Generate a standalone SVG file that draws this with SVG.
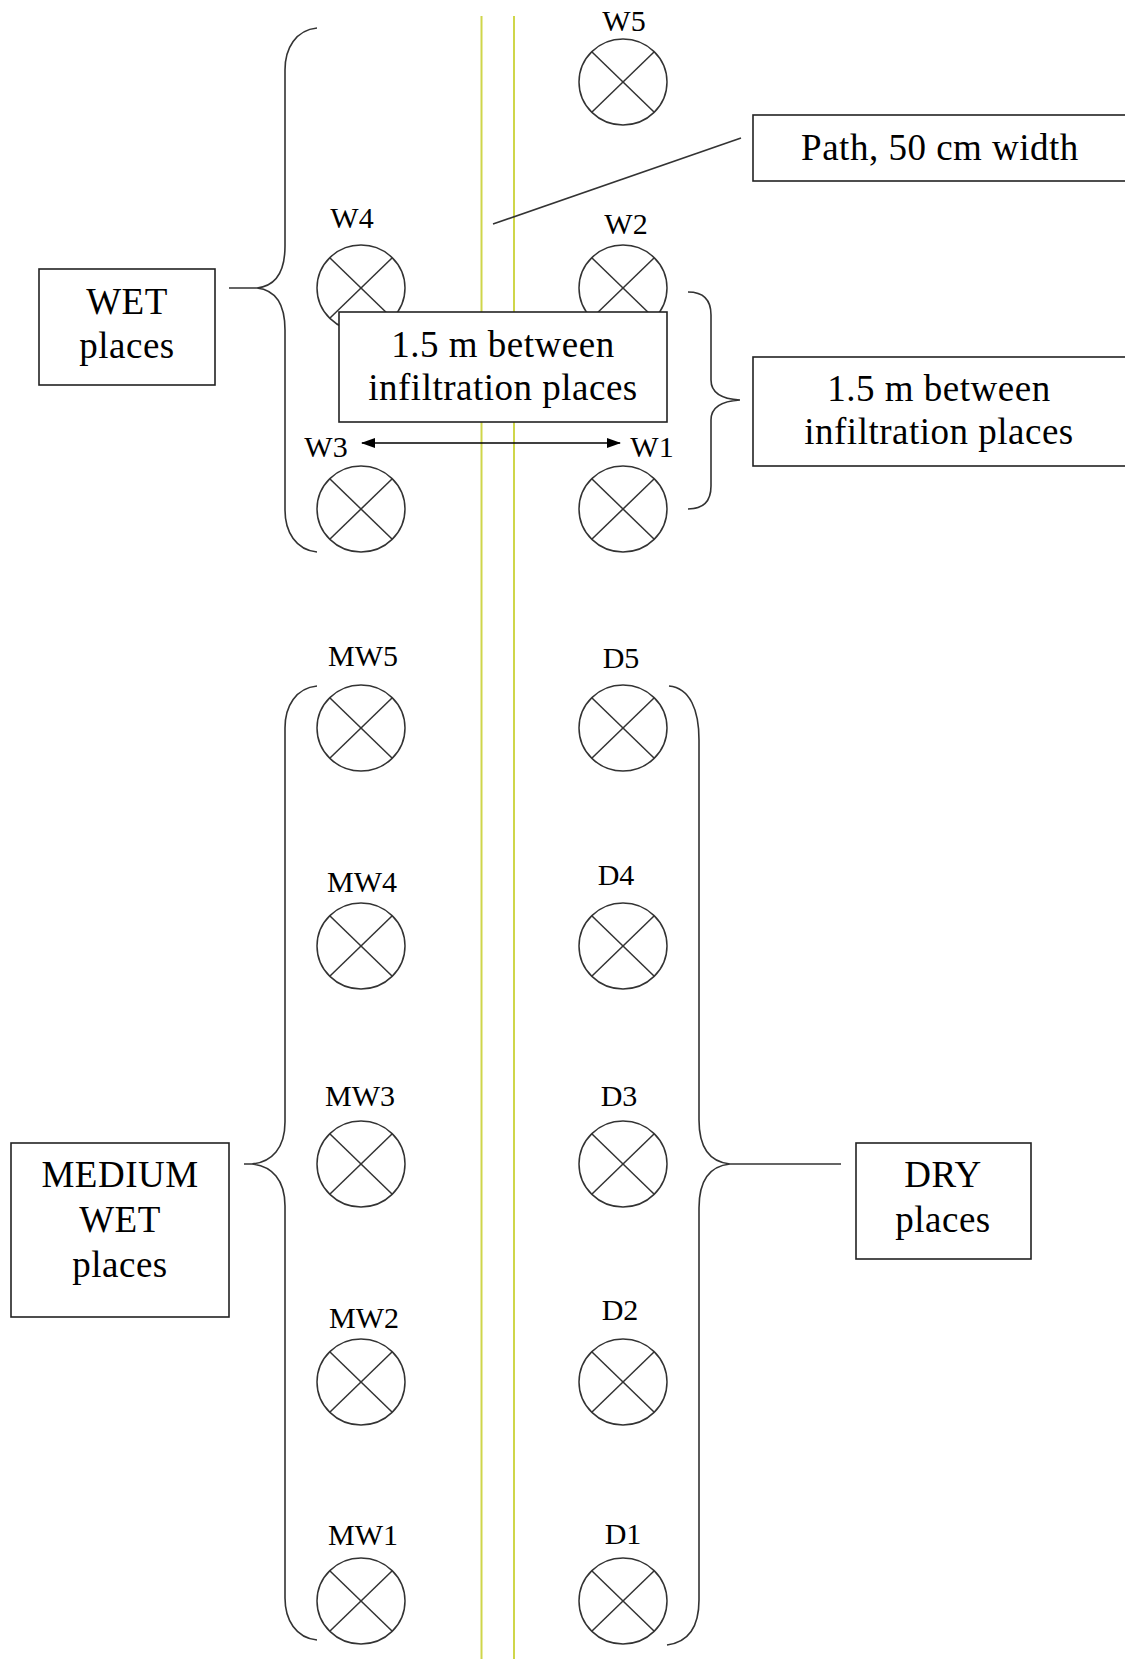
<svg xmlns="http://www.w3.org/2000/svg" width="1125" height="1659" viewBox="0 0 1125 1659">
<style>
  .bg { fill: #ffffff; }
  .path-line { stroke: #cfd64a; stroke-width: 2; fill: none; }
  .lbl { font-family: "Liberation Serif", "Times New Roman", serif; font-size: 30px; fill: #000; text-anchor: middle; }
  .box rect { fill: #ffffff; stroke: #222222; stroke-width: 1.6; }
  .box text { font-family: "Liberation Serif", "Times New Roman", serif; font-size: 37px; fill: #000; text-anchor: middle; letter-spacing: 0.5px; }
  .conn path, .conn line { fill: none; stroke: #333333; stroke-width: 1.6; }
  .conn .arrow { stroke: #000; stroke-width: 1.6; }
</style>
<defs>
  <marker id="ah" viewBox="0 0 14 10" refX="13" refY="5" markerWidth="14" markerHeight="10" markerUnits="userSpaceOnUse" orient="auto-start-reverse">
    <path d="M0,0 L14,5 L0,10 Z" fill="#000"/>
  </marker>
  <g id="xc" fill="none" stroke="#333333" stroke-width="1.5">
    <ellipse cx="0" cy="0" rx="44" ry="43"/>
    <line x1="-31" y1="-30" x2="31" y2="30"/>
    <line x1="-31" y1="30" x2="31" y2="-30"/>
  </g>
</defs>
<rect class="bg" x="0" y="0" width="1125" height="1659"/>

<g id="path-edges">
  <line class="path-line" x1="481.5" y1="16" x2="481.5" y2="1659"/>
  <line class="path-line" x1="514" y1="16" x2="514" y2="1659"/>
</g>

<g id="W5" class="site"><use href="#xc" x="623" y="82"/><text class="lbl" x="624" y="31">W5</text></g>
<g id="W4" class="site"><use href="#xc" x="361" y="288"/><text class="lbl" x="352" y="228">W4</text></g>
<g id="W2" class="site"><use href="#xc" x="623" y="288"/><text class="lbl" x="626" y="234">W2</text></g>
<g id="W3" class="site"><use href="#xc" x="361" y="509"/><text class="lbl" x="326" y="457">W3</text></g>
<g id="W1" class="site"><use href="#xc" x="623" y="509"/><text class="lbl" x="652" y="457">W1</text></g>

<g id="MW5" class="site"><use href="#xc" x="361" y="728"/><text class="lbl" x="363" y="666">MW5</text></g>
<g id="MW4" class="site"><use href="#xc" x="361" y="946"/><text class="lbl" x="362" y="892">MW4</text></g>
<g id="MW3" class="site"><use href="#xc" x="361" y="1164"/><text class="lbl" x="360" y="1106">MW3</text></g>
<g id="MW2" class="site"><use href="#xc" x="361" y="1382"/><text class="lbl" x="364" y="1328">MW2</text></g>
<g id="MW1" class="site"><use href="#xc" x="361" y="1601"/><text class="lbl" x="363" y="1545">MW1</text></g>

<g id="D5" class="site"><use href="#xc" x="623" y="728"/><text class="lbl" x="621" y="668">D5</text></g>
<g id="D4" class="site"><use href="#xc" x="623" y="946"/><text class="lbl" x="616" y="885">D4</text></g>
<g id="D3" class="site"><use href="#xc" x="623" y="1164"/><text class="lbl" x="619" y="1106">D3</text></g>
<g id="D2" class="site"><use href="#xc" x="623" y="1382"/><text class="lbl" x="620" y="1320">D2</text></g>
<g id="D1" class="site"><use href="#xc" x="623" y="1601"/><text class="lbl" x="623" y="1544">D1</text></g>

<g id="connectors" class="conn">
  <path d="M317,28 C296,30 285,48 285,70 L285,246 C285,272 275,286 257,288 L229,288 M257,288 C275,290 285,304 285,330 L285,510 C285,532 296,550 317,552"/>
  <path d="M317,686 C296,688 285,706 285,728 L285,1122 C285,1148 272,1162 252,1164 L244,1164 M252,1164 C272,1166 285,1180 285,1206 L285,1598 C285,1620 296,1638 317,1640"/>
  <path d="M669,686 C690,688 699,710 699,740 L699,1120 C699,1148 710,1162 730,1164 L841,1164 M730,1164 C710,1166 699,1180 699,1208 L699,1600 C699,1626 690,1642 667,1645"/>
  <path d="M688,292 C703,292 711,300 711,315 L711,380 C711,393 722,399 740,400 M740,400 C722,401 711,407 711,420 L711,486 C711,501 703,509 688,509"/>
  <line x1="493" y1="224" x2="741" y2="138"/>
  <line class="arrow" x1="362" y1="443" x2="620" y2="443" marker-start="url(#ah)" marker-end="url(#ah)"/>
</g>

<g id="box-wet" class="box">
  <rect x="39" y="269" width="176" height="116"/>
  <text x="127" y="314">WET</text>
  <text x="127" y="358">places</text>
</g>
<g id="box-spacing-mid" class="box">
  <rect x="339" y="312" width="328" height="110"/>
  <text x="503" y="357">1.5 m between</text>
  <text x="503" y="400">infiltration places</text>
</g>
<g id="box-path" class="box">
  <rect x="753" y="115" width="380" height="66"/>
  <text x="940" y="160">Path, 50 cm width</text>
</g>
<g id="box-spacing-right" class="box">
  <rect x="753" y="357" width="380" height="109"/>
  <text x="939" y="401">1.5 m between</text>
  <text x="939" y="444">infiltration places</text>
</g>
<g id="box-medium" class="box">
  <rect x="11" y="1143" width="218" height="174"/>
  <text x="120" y="1187">MEDIUM</text>
  <text x="120" y="1232">WET</text>
  <text x="120" y="1277">places</text>
</g>
<g id="box-dry" class="box">
  <rect x="856" y="1143" width="175" height="116"/>
  <text x="943" y="1187">DRY</text>
  <text x="943" y="1232">places</text>
</g>
</svg>
